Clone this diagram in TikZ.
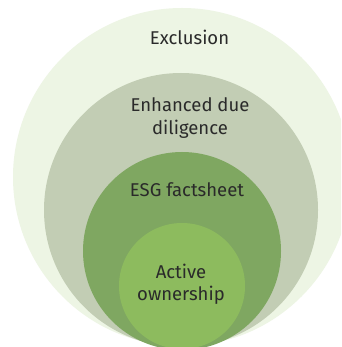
\documentclass[tikz,border=0pt]{standalone}
\usepackage{fontspec}
\setmainfont{Fira Sans}
\definecolor{cExcl}{HTML}{EDF5E4}
\definecolor{cEnh}{HTML}{C2CDB4}
\definecolor{cEsg}{HTML}{7FA761}
\definecolor{cAct}{HTML}{8DBB5E}
\definecolor{txt}{HTML}{2A2A2A}
\begin{document}
\begin{tikzpicture}[x=1pt,y=-1pt,
  ring/.style={circle, inner sep=0pt, draw=none},
  lab/.style={anchor=base, text=txt, font=\fontsize{18.5}{23}\selectfont, inner sep=0pt}]
\useasboundingbox (0,0) rectangle (341,347);
\clip (0,0) rectangle (341,347);
\fill[white] (0,0) rectangle (341,347);
\node[ring, fill=cExcl, minimum size=338pt] (excl) at (182,177) {};
\node[ring, fill=cEnh, minimum size=274pt] (enh) at (181,210) {};
\node[ring, fill=cEsg, minimum size=198pt] (esg) at (182,251) {};
\node[ring, fill=cAct, minimum size=126pt] (act) at (182,286) {};
\node[lab] (t1) at (189.5,45) {Exclusion};
\node[lab] (t2) at (190,112) {Enhanced due};
\node[lab] (t3) at (190,135) {diligence};
\node[lab] (t4) at (187,196) {ESG factsheet};
\node[lab] (t5) at (181,278) {Active};
\node[lab] (t6) at (181,300) {ownership};
\end{tikzpicture}
\end{document}
